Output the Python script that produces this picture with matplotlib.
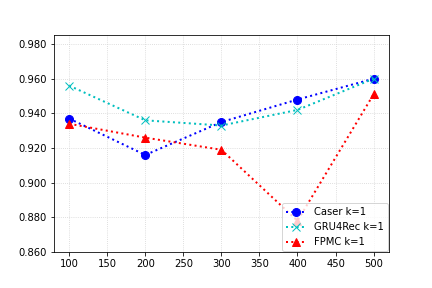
import matplotlib
matplotlib.use("Agg")
import matplotlib.pyplot as plt
from matplotlib.ticker import FormatStrFormatter

x = [100, 200, 300, 400, 500]
caser = [0.937, 0.916, 0.935, 0.948, 0.960]
gru4rec = [0.956, 0.936, 0.933, 0.942, 0.960]
fpmc = [0.934, 0.926, 0.919, 0.878, 0.951]

fig, ax = plt.subplots(figsize=(6, 4), dpi=72)
fig.subplots_adjust(left=0.125, right=0.9, bottom=0.125, top=0.877)
ax.plot(x, caser, 'b:o', lw=2, markersize=8, label='Caser k=1')
ax.plot(x, gru4rec, 'c:x', lw=2, markersize=8, label='GRU4Rec k=1')
ax.plot(x, fpmc, 'r:^', lw=2, markersize=8, label='FPMC k=1')

ax.set_ylim(0.86, 0.985)
ax.yaxis.set_major_formatter(FormatStrFormatter('%.3f'))
ax.grid(linestyle=':', color='#d0d0d0')
ax.legend(loc='lower right', borderaxespad=0.1)

fig.savefig('out.png', dpi=72)
